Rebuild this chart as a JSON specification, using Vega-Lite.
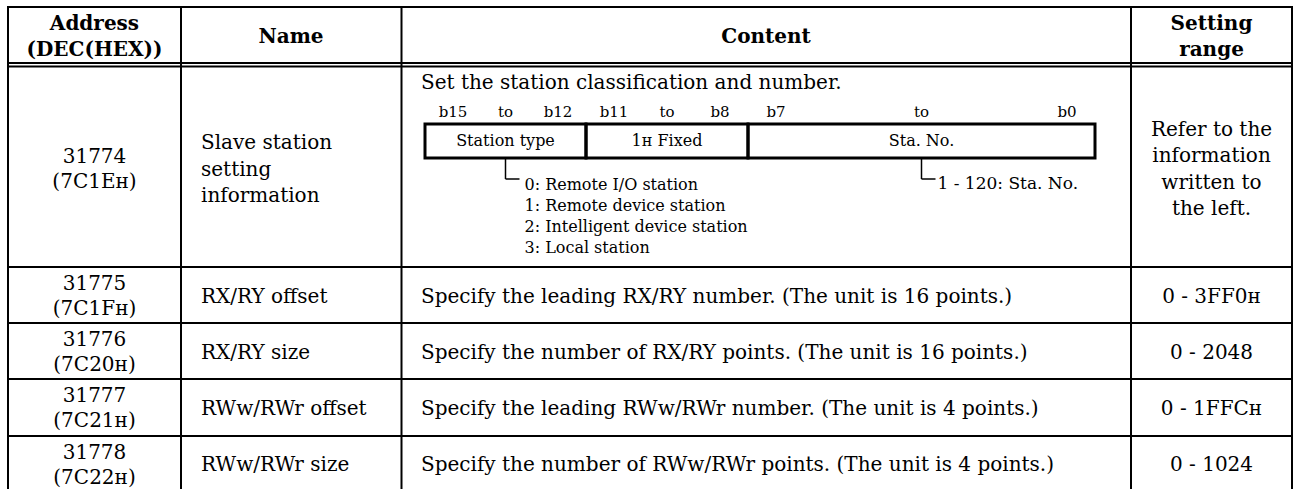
{
  "$schema": "https://vega.github.io/schema/vega-lite/v6.json",
  "width": 1295,
  "height": 489,
  "padding": 0,
  "autosize": {"type": "none"},
  "background": "#ffffff",
  "config": {"view": {"stroke": null}, "axis": {"disable": true}},
  "datasets": {
    "cells": [
      {"row": 0, "col": 0, "kind": "head", "lines": 2, "text": "Address\n(DEC(HEX))"},
      {"row": 0, "col": 1, "kind": "head", "lines": 1, "text": "Name"},
      {"row": 0, "col": 2, "kind": "head", "lines": 1, "text": "Content"},
      {"row": 0, "col": 3, "kind": "head", "lines": 2, "text": "Setting\nrange"},
      {"row": 1, "col": 0, "kind": "center", "lines": 2, "text": "31774\n(7C1Eʜ)"},
      {"row": 1, "col": 1, "kind": "left", "lines": 3, "text": "Slave station\nsetting\ninformation"},
      {"row": 1, "col": 3, "kind": "center", "lines": 4, "text": "Refer to the\ninformation\nwritten to\nthe left."},
      {"row": 2, "col": 0, "kind": "center", "lines": 2, "text": "31775\n(7C1Fʜ)"},
      {"row": 2, "col": 1, "kind": "left", "lines": 1, "text": "RX/RY offset"},
      {"row": 2, "col": 2, "kind": "left", "lines": 1, "text": "Specify the leading RX/RY number. (The unit is 16 points.)"},
      {"row": 2, "col": 3, "kind": "center", "lines": 1, "text": "0 - 3FF0ʜ"},
      {"row": 3, "col": 0, "kind": "center", "lines": 2, "text": "31776\n(7C20ʜ)"},
      {"row": 3, "col": 1, "kind": "left", "lines": 1, "text": "RX/RY size"},
      {"row": 3, "col": 2, "kind": "left", "lines": 1, "text": "Specify the number of RX/RY points. (The unit is 16 points.)"},
      {"row": 3, "col": 3, "kind": "center", "lines": 1, "text": "0 - 2048"},
      {"row": 4, "col": 0, "kind": "center", "lines": 2, "text": "31777\n(7C21ʜ)"},
      {"row": 4, "col": 1, "kind": "left", "lines": 1, "text": "RWw/RWr offset"},
      {"row": 4, "col": 2, "kind": "left", "lines": 1, "text": "Specify the leading RWw/RWr number. (The unit is 4 points.)"},
      {"row": 4, "col": 3, "kind": "center", "lines": 1, "text": "0 - 1FFCʜ"},
      {"row": 5, "col": 0, "kind": "center", "lines": 2, "text": "31778\n(7C22ʜ)"},
      {"row": 5, "col": 1, "kind": "left", "lines": 1, "text": "RWw/RWr size"},
      {"row": 5, "col": 2, "kind": "left", "lines": 1, "text": "Specify the number of RWw/RWr points. (The unit is 4 points.)"},
      {"row": 5, "col": 3, "kind": "center", "lines": 1, "text": "0 - 1024"}
    ],
    "vlines": [
      {"edge": 0, "top": 0, "bottom": 7},
      {"edge": 1, "top": 0, "bottom": 7},
      {"edge": 2, "top": 0, "bottom": 7},
      {"edge": 3, "top": 0, "bottom": 7},
      {"edge": 4, "top": 0, "bottom": 7}
    ],
    "hlines": [
      {"edge": 0, "left": 0, "right": 4},
      {"edge": 1, "left": 0, "right": 4},
      {"edge": 2, "left": 0, "right": 4},
      {"edge": 3, "left": 0, "right": 4},
      {"edge": 4, "left": 0, "right": 4},
      {"edge": 5, "left": 0, "right": 4},
      {"edge": 6, "left": 0, "right": 4}
    ],
    "fields": [
      {"seg": "Station type", "hi": 16, "lo": 12, "mid": 14, "hiLabel": "b15", "loLabel": "b12", "span": "to"},
      {"seg": "1ʜ Fixed", "hi": 12, "lo": 8, "mid": 10, "hiLabel": "b11", "loLabel": "b8", "span": "to"},
      {"seg": "Sta. No.", "hi": 8, "lo": 0, "mid": 4, "hiLabel": "b7", "loLabel": "b0", "span": "to"}
    ],
    "notes": [
      {"mid": 14, "text": "0: Remote I/O station\n1: Remote device station\n2: Intelligent device station\n3: Local station"},
      {"mid": 4, "text": "1 - 120: Sta. No."}
    ],
    "heading": [
      {"bit": 16, "tier": 0, "text": "Set the station classification and number."}
    ]
  },
  "layer": [
    {
      "layer": [
        {
          "data": {"name": "vlines"},
          "mark": {"type": "rule", "stroke": "#000000", "strokeWidth": 2, "strokeCap": "square"},
          "encoding": {
            "x": {"field": "edge", "type": "quantitative", "scale": {"domain": [0, 1, 2, 3, 4], "range": [8, 181, 401.5, 1131, 1292], "nice": false, "zero": false}},
            "y": {"field": "top", "type": "quantitative", "scale": {"domain": [0, 1, 2, 3, 4, 5, 6, 7], "range": [7, 63, 66.5, 267, 323, 379, 436, 493], "nice": false, "zero": false}},
            "y2": {"field": "bottom"}
          }
        },
        {
          "data": {"name": "hlines"},
          "mark": {"type": "rule", "stroke": "#000000", "strokeWidth": 2, "strokeCap": "square"},
          "encoding": {
            "x": {"field": "left", "type": "quantitative", "scale": {"domain": [0, 1, 2, 3, 4], "range": [8, 181, 401.5, 1131, 1292], "nice": false, "zero": false}},
            "x2": {"field": "right"},
            "y": {"field": "edge", "type": "quantitative", "scale": {"domain": [0, 1, 2, 3, 4, 5, 6, 7], "range": [7, 63, 66.5, 267, 323, 379, 436, 493], "nice": false, "zero": false}}
          }
        }
      ]
    },
    {
      "data": {"name": "cells"},
      "layer": [
        {
          "transform": [{"filter": "datum.kind === 'head' && datum.lines === 1"}],
          "mark": {"type": "text", "font": "DejaVu Serif", "fontSize": 20, "fontWeight": "bold", "lineBreak": "\n", "lineHeight": 26, "align": "center", "baseline": "middle", "color": "#000000"},
          "encoding": {
            "x": {"field": "col", "type": "quantitative", "scale": {"domain": [0, 1, 2, 3], "range": [94.5, 291, 766, 1211.5], "nice": false, "zero": false}},
            "y": {"field": "row", "type": "quantitative", "scale": {"domain": [0, 1, 2, 3, 4, 5], "range": [36.5, 169.5, 296.5, 352.5, 408.5, 465], "nice": false, "zero": false}},
            "text": {"field": "text"}
          }
        },
        {
          "transform": [{"filter": "datum.kind === 'head' && datum.lines === 2"}],
          "mark": {"type": "text", "font": "DejaVu Serif", "fontSize": 20, "fontWeight": "bold", "lineBreak": "\n", "lineHeight": 26, "align": "center", "baseline": "middle", "dy": -13, "color": "#000000"},
          "encoding": {
            "x": {"field": "col", "type": "quantitative", "scale": {"domain": [0, 1, 2, 3], "range": [94.5, 291, 766, 1211.5], "nice": false, "zero": false}},
            "y": {"field": "row", "type": "quantitative", "scale": {"domain": [0, 1, 2, 3, 4, 5], "range": [36.5, 169.5, 296.5, 352.5, 408.5, 465], "nice": false, "zero": false}},
            "text": {"field": "text"}
          }
        },
        {
          "transform": [{"filter": "datum.kind === 'center' && datum.lines === 1"}],
          "mark": {"type": "text", "font": "DejaVu Serif", "fontSize": 20, "lineBreak": "\n", "lineHeight": 26, "align": "center", "baseline": "middle", "color": "#000000"},
          "encoding": {
            "x": {"field": "col", "type": "quantitative", "scale": {"domain": [0, 1, 2, 3], "range": [94.5, 291, 766, 1211.5], "nice": false, "zero": false}},
            "y": {"field": "row", "type": "quantitative", "scale": {"domain": [0, 1, 2, 3, 4, 5], "range": [36.5, 169.5, 296.5, 352.5, 408.5, 465], "nice": false, "zero": false}},
            "text": {"field": "text"}
          }
        },
        {
          "transform": [{"filter": "datum.kind === 'center' && datum.lines === 2"}],
          "mark": {"type": "text", "font": "DejaVu Serif", "fontSize": 20, "lineBreak": "\n", "lineHeight": 25, "align": "center", "baseline": "middle", "dy": -12.5, "color": "#000000"},
          "encoding": {
            "x": {"field": "col", "type": "quantitative", "scale": {"domain": [0, 1, 2, 3], "range": [94.5, 291, 766, 1211.5], "nice": false, "zero": false}},
            "y": {"field": "row", "type": "quantitative", "scale": {"domain": [0, 1, 2, 3, 4, 5], "range": [36.5, 169.5, 296.5, 352.5, 408.5, 465], "nice": false, "zero": false}},
            "text": {"field": "text"}
          }
        },
        {
          "transform": [{"filter": "datum.kind === 'center' && datum.lines === 4"}],
          "mark": {"type": "text", "font": "DejaVu Serif", "fontSize": 20, "lineBreak": "\n", "lineHeight": 26.5, "align": "center", "baseline": "middle", "dy": -40, "color": "#000000"},
          "encoding": {
            "x": {"field": "col", "type": "quantitative", "scale": {"domain": [0, 1, 2, 3], "range": [94.5, 291, 766, 1211.5], "nice": false, "zero": false}},
            "y": {"field": "row", "type": "quantitative", "scale": {"domain": [0, 1, 2, 3, 4, 5], "range": [36.5, 169.5, 296.5, 352.5, 408.5, 465], "nice": false, "zero": false}},
            "text": {"field": "text"}
          }
        },
        {
          "transform": [{"filter": "datum.kind === 'left' && datum.lines === 1"}],
          "mark": {"type": "text", "font": "DejaVu Serif", "fontSize": 20, "lineBreak": "\n", "lineHeight": 26, "align": "left", "baseline": "middle", "color": "#000000"},
          "encoding": {
            "x": {"field": "col", "type": "quantitative", "scale": {"domain": [1, 2], "range": [201, 421], "nice": false, "zero": false}},
            "y": {"field": "row", "type": "quantitative", "scale": {"domain": [0, 1, 2, 3, 4, 5], "range": [36.5, 169.5, 296.5, 352.5, 408.5, 465], "nice": false, "zero": false}},
            "text": {"field": "text"}
          }
        },
        {
          "transform": [{"filter": "datum.kind === 'left' && datum.lines === 3"}],
          "mark": {"type": "text", "font": "DejaVu Serif", "fontSize": 20, "lineBreak": "\n", "lineHeight": 26.5, "align": "left", "baseline": "middle", "dy": -26.5, "color": "#000000"},
          "encoding": {
            "x": {"field": "col", "type": "quantitative", "scale": {"domain": [1, 2], "range": [201, 421], "nice": false, "zero": false}},
            "y": {"field": "row", "type": "quantitative", "scale": {"domain": [0, 1, 2, 3, 4, 5], "range": [36.5, 169.5, 296.5, 352.5, 408.5, 465], "nice": false, "zero": false}},
            "text": {"field": "text"}
          }
        }
      ],
      "resolve": {"scale": {"x": "independent"}}
    },
    {
      "layer": [
        {
          "data": {"name": "heading"},
          "mark": {"type": "text", "font": "DejaVu Serif", "fontSize": 20, "align": "left", "baseline": "middle", "dx": -4, "color": "#000000"},
          "encoding": {
            "x": {"field": "bit", "type": "quantitative", "scale": {"domain": [0, 8, 12, 16], "range": [1095, 748, 586, 425], "nice": false, "zero": false}},
            "y": {"field": "tier", "type": "quantitative", "scale": {"domain": [0, 1, 2, 3, 4], "range": [83, 112, 124, 158, 179], "nice": false, "zero": false}},
            "text": {"field": "text"}
          }
        },
        {
          "data": {"name": "fields"},
          "mark": {"type": "text", "font": "DejaVu Serif", "fontSize": 15, "align": "center", "baseline": "middle", "dx": 28, "color": "#000000"},
          "encoding": {
            "x": {"field": "hi", "type": "quantitative", "scale": {"domain": [0, 8, 12, 16], "range": [1095, 748, 586, 425], "nice": false, "zero": false}},
            "y": {"datum": 1, "type": "quantitative", "scale": {"domain": [0, 1, 2, 3, 4], "range": [83, 112, 124, 158, 179], "nice": false, "zero": false}},
            "text": {"field": "hiLabel"}
          }
        },
        {
          "data": {"name": "fields"},
          "mark": {"type": "text", "font": "DejaVu Serif", "fontSize": 15, "align": "center", "baseline": "middle", "dx": -28, "color": "#000000"},
          "encoding": {
            "x": {"field": "lo", "type": "quantitative", "scale": {"domain": [0, 8, 12, 16], "range": [1095, 748, 586, 425], "nice": false, "zero": false}},
            "y": {"datum": 1, "type": "quantitative", "scale": {"domain": [0, 1, 2, 3, 4], "range": [83, 112, 124, 158, 179], "nice": false, "zero": false}},
            "text": {"field": "loLabel"}
          }
        },
        {
          "data": {"name": "fields"},
          "mark": {"type": "text", "font": "DejaVu Serif", "fontSize": 15, "align": "center", "baseline": "middle", "color": "#000000"},
          "encoding": {
            "x": {"field": "mid", "type": "quantitative", "scale": {"domain": [0, 8, 12, 16], "range": [1095, 748, 586, 425], "nice": false, "zero": false}},
            "y": {"datum": 1, "type": "quantitative", "scale": {"domain": [0, 1, 2, 3, 4], "range": [83, 112, 124, 158, 179], "nice": false, "zero": false}},
            "text": {"field": "span"}
          }
        },
        {
          "data": {"name": "fields"},
          "mark": {"type": "rect", "fill": "transparent", "stroke": "#000000", "strokeWidth": 3},
          "encoding": {
            "x": {"field": "hi", "type": "quantitative", "scale": {"domain": [0, 8, 12, 16], "range": [1095, 748, 586, 425], "nice": false, "zero": false}},
            "x2": {"field": "lo"},
            "y": {"datum": 2, "type": "quantitative", "scale": {"domain": [0, 1, 2, 3, 4], "range": [83, 112, 124, 158, 179], "nice": false, "zero": false}},
            "y2": {"datum": 3}
          }
        },
        {
          "data": {"name": "fields"},
          "mark": {"type": "text", "font": "DejaVu Serif", "fontSize": 16, "align": "center", "baseline": "middle", "color": "#000000"},
          "encoding": {
            "x": {"field": "mid", "type": "quantitative", "scale": {"domain": [0, 8, 12, 16], "range": [1095, 748, 586, 425], "nice": false, "zero": false}},
            "y": {"datum": 2.5, "type": "quantitative", "scale": {"domain": [0, 1, 2, 3, 4], "range": [83, 112, 124, 158, 179], "nice": false, "zero": false}},
            "text": {"field": "seg"}
          }
        },
        {
          "data": {"name": "notes"},
          "mark": {"type": "rule", "stroke": "#000000", "strokeWidth": 1.5},
          "encoding": {
            "x": {"field": "mid", "type": "quantitative", "scale": {"domain": [0, 8, 12, 16], "range": [1095, 748, 586, 425], "nice": false, "zero": false}},
            "y": {"datum": 3, "type": "quantitative", "scale": {"domain": [0, 1, 2, 3, 4], "range": [83, 112, 124, 158, 179], "nice": false, "zero": false}},
            "y2": {"datum": 4}
          }
        },
        {
          "data": {"name": "notes"},
          "mark": {"type": "rule", "stroke": "#000000", "strokeWidth": 1.5, "x2Offset": 14},
          "encoding": {
            "x": {"field": "mid", "type": "quantitative", "scale": {"domain": [0, 8, 12, 16], "range": [1095, 748, 586, 425], "nice": false, "zero": false}},
            "x2": {"field": "mid"},
            "y": {"datum": 4, "type": "quantitative", "scale": {"domain": [0, 1, 2, 3, 4], "range": [83, 112, 124, 158, 179], "nice": false, "zero": false}}
          }
        },
        {
          "data": {"name": "notes"},
          "transform": [{"filter": "datum.mid === 14"}],
          "mark": {"type": "text", "font": "DejaVu Serif", "fontSize": 16, "align": "left", "baseline": "top", "lineBreak": "\n", "lineHeight": 21, "dx": 19, "dy": -2, "color": "#000000"},
          "encoding": {
            "x": {"field": "mid", "type": "quantitative", "scale": {"domain": [0, 8, 12, 16], "range": [1095, 748, 586, 425], "nice": false, "zero": false}},
            "y": {"datum": 4, "type": "quantitative", "scale": {"domain": [0, 1, 2, 3, 4], "range": [83, 112, 124, 158, 179], "nice": false, "zero": false}},
            "text": {"field": "text"}
          }
        },
        {
          "data": {"name": "notes"},
          "transform": [{"filter": "datum.mid === 4"}],
          "mark": {"type": "text", "font": "DejaVu Serif", "fontSize": 17, "align": "left", "baseline": "middle", "dx": 16, "dy": 5, "color": "#000000"},
          "encoding": {
            "x": {"field": "mid", "type": "quantitative", "scale": {"domain": [0, 8, 12, 16], "range": [1095, 748, 586, 425], "nice": false, "zero": false}},
            "y": {"datum": 4, "type": "quantitative", "scale": {"domain": [0, 1, 2, 3, 4], "range": [83, 112, 124, 158, 179], "nice": false, "zero": false}},
            "text": {"field": "text"}
          }
        }
      ]
    }
  ],
  "resolve": {"scale": {"x": "independent", "y": "independent"}}
}
